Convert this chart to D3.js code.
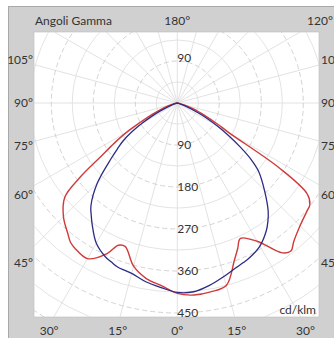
<!DOCTYPE html>
<html>
<head>
<meta charset="utf-8">
<script src="https://cdn.jsdelivr.net/npm/d3@7"></script>
<style>
  body { margin:0; background:#fff; }
  text { font-family: Lato, "Open Sans", sans-serif; fill:#333; }
</style>
</head>
<body>
<div id="chart-area"></div>
<script>
// gamma angles (deg from nadir) and intensities in cd/klm
var gammaAngles = [0,5,10,15,20,22.5,25,30,35,37.5,40,45,50,52.5,55,57.5,60,62.5,65,70,75,80,85,90];
var blueLeft  = [406,397,389,378,374,369,364,347,318,303,288,242,185,162,142,116,88,62,40,13,3,0,0,0];
var blueRight = [408,406,397,385,374,370,366,354,333,319,303,264,227,200,165,130,100,72,47,15,3,0,0,0];
var redLeft   = [408,393,382,362,327,330,356,385,381,376,365,345,315,265,200,160,125,88,64,32,12,3,0,0];
var redRight  = [411,413,411,405,358,338,320,342,392,400,388,372,362,358,340,260,130,95,68,38,15,4,0,0];

var ringValues = [45,90,135,180,225,270,315,360,405,450,495,540,585,630];
var ringLabels = [90,180,270,360,450];
var sideAngles = [105,90,75,60,45];
var bottomAngles = [-30,-15,0,15,30];

var width = 334, height = 338;
var plot = { left:34, top:32, right:319, bottom:317 };
var cx = 177.3, cy = 103;

var svg = d3.select("#chart-area")
    .append("svg")
    .attr("width", width)
    .attr("height", height);

// gray frame
svg.append("rect")
    .attr("x", 8.5).attr("y", 6.5)
    .attr("width", width).attr("height", height)
    .attr("fill", "#d0d0d0")
    .attr("stroke", "#a9a9a9");

svg.append("rect")
    .attr("x", plot.left).attr("y", plot.top)
    .attr("width", plot.right - plot.left).attr("height", plot.bottom - plot.top)
    .attr("fill", "#fff")
    .attr("stroke", "#bcbcbc")
    .attr("stroke-width", 0.6);

svg.append("clipPath").attr("id", "clip")
  .append("rect")
    .attr("x", plot.left).attr("y", plot.top)
    .attr("width", plot.right - plot.left).attr("height", plot.bottom - plot.top);

var r = d3.scaleLinear()
    .domain([0, 450])
    .range([0, 210]);

var g = svg.append("g")
    .attr("clip-path", "url(#clip)")
  .append("g")
    .attr("transform", "translate(" + cx + "," + cy + ")");

// radial lines every 15 deg
g.selectAll(".spoke").data(d3.range(0, 360, 15))
  .enter().append("line")
    .attr("class", "spoke")
    .attr("x1", 0).attr("y1", 0)
    .attr("x2", function(d){ return r(700) * Math.sin(d * Math.PI / 180); })
    .attr("y2", function(d){ return r(700) * Math.cos(d * Math.PI / 180); })
    .attr("stroke", "#dadada")
    .attr("stroke-width", 0.8);

// rings
g.selectAll(".ring").data(ringValues)
  .enter().append("circle")
    .attr("class", "ring")
    .attr("r", function(d){ return r(d); })
    .attr("fill", "none")
    .attr("stroke", function(d){ return d % 90 == 0 ? "#c8c8c8" : "#dcdcdc"; })
    .attr("stroke-width", 0.8)
    .attr("stroke-dasharray", function(d){ return d % 90 == 0 ? "5,3" : null; });

// ring labels
g.selectAll(".rlabel").data(ringLabels)
  .enter().append("text")
    .attr("class", "rlabel")
    .attr("x", 0)
    .attr("y", function(d){ return r(d) + 4; })
    .attr("font-size", "12px")
    .text(function(d){ return d; });

g.append("text")
    .attr("x", 0)
    .attr("y", -r(90) + 1)
    .attr("font-size", "12px")
    .text("90");

function curvePoints(left, right){
  var pts = [];
  for (var i = gammaAngles.length - 1; i >= 0; i--) {
    pts.push([Math.PI + gammaAngles[i] * Math.PI / 180, r(left[i])]);
  }
  for (var j = 1; j < gammaAngles.length; j++) {
    pts.push([Math.PI - gammaAngles[j] * Math.PI / 180, r(right[j])]);
  }
  return pts;
}

var line = d3.lineRadial()
    .angle(function(d){ return d[0]; })
    .radius(function(d){ return d[1]; })
    .curve(d3.curveCatmullRom.alpha(0.5));

g.append("path")
    .attr("d", line(curvePoints(redLeft, redRight)))
    .attr("fill", "none")
    .attr("stroke", "#d03a3a")
    .attr("stroke-width", 1.4);

g.append("path")
    .attr("d", line(curvePoints(blueLeft, blueRight)))
    .attr("fill", "none")
    .attr("stroke", "#2c2c84")
    .attr("stroke-width", 1.3);

// frame labels
svg.append("text")
    .attr("x", 35).attr("y", 24.5)
    .attr("font-size", "12px")
    .text("Angoli Gamma");

svg.append("text")
    .attr("x", cx).attr("y", 24.5)
    .attr("font-size", "12px")
    .attr("text-anchor", "middle")
    .text("180°");

svg.append("text")
    .attr("x", 320).attr("y", 24.5)
    .attr("font-size", "12px")
    .attr("text-anchor", "middle")
    .text("120°");

svg.selectAll(".lside").data(sideAngles)
  .enter().append("text")
    .attr("class", "lside")
    .attr("x", 33)
    .attr("y", function(d){ return cy + 160 / Math.tan(d * Math.PI / 180) + 4; })
    .attr("font-size", "12px")
    .attr("text-anchor", "end")
    .text(function(d){ return d + "°"; });

svg.selectAll(".rside").data(sideAngles)
  .enter().append("text")
    .attr("class", "rside")
    .attr("x", 321)
    .attr("y", function(d){ return cy + 160 / Math.tan(d * Math.PI / 180) + 4; })
    .attr("font-size", "12px")
    .text(function(d){ return d + "°"; });

svg.selectAll(".bottom").data(bottomAngles)
  .enter().append("text")
    .attr("class", "bottom")
    .attr("x", function(d){ return cx + 222 * Math.tan(d * Math.PI / 180); })
    .attr("y", 335)
    .attr("font-size", "12px")
    .attr("text-anchor", "middle")
    .text(function(d){ return Math.abs(d) + "°"; });

svg.append("text")
    .attr("x", 316).attr("y", 314)
    .attr("font-size", "12px")
    .attr("text-anchor", "end")
    .text("cd/klm");
</script>
</body>
</html>
